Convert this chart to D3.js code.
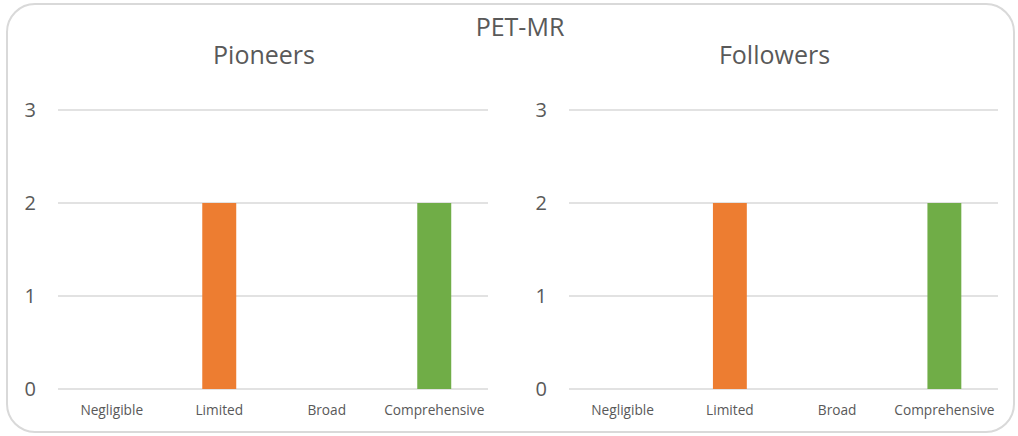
<!DOCTYPE html>
<html><head><meta charset="utf-8">
<script src="https://cdn.jsdelivr.net/npm/d3@7"></script>
<style>body{margin:0;background:#fff;}svg{display:block;font-family:"Open Sans",sans-serif;}</style>
</head><body>
<svg id="c" width="1018" height="436"></svg>
<script>
const categories = ["Negligible","Limited","Broad","Comprehensive"];
const pioneers = [0,2,0,2];
const followers = [0,2,0,2];
const yTicks = [0,1,2,3];
const barColors = ["#4472C4","#ED7D31","#A5A5A5","#70AD47"];
const mainTitle = "PET-MR";
const panelTitles = ["Pioneers","Followers"];

const svg = d3.select("#c");
svg.append("rect").attr("x",7).attr("y",4).attr("width",1007).attr("height",428)
  .attr("rx",28).attr("fill","#fff").attr("stroke","#d9d9d9").attr("stroke-width",2);
svg.append("text").attr("x",520).attr("y",36).attr("text-anchor","middle")
  .attr("font-size",25).attr("fill","#595959").text(mainTitle);

const y = d3.scaleLinear().domain([0,3]).range([389,110]);
const panels = [
  {title:panelTitles[0], values:pioneers, x0:58, x1:488, labelX:36},
  {title:panelTitles[1], values:followers, x0:569, x1:998, labelX:547}
];
panels.forEach(p=>{
  const g = svg.append("g");
  const x = d3.scaleBand().domain(categories).range([p.x0,p.x1]).paddingInner(0.684).paddingOuter(0.342);
  g.append("text").attr("x",(p.x0+p.x1)/2 - 9).attr("y",64).attr("text-anchor","middle")
    .attr("font-size",25).attr("fill","#595959").text(p.title);
  g.selectAll("line.grid").data(yTicks).join("line")
    .attr("x1",p.x0).attr("x2",p.x1).attr("y1",d=>y(d)).attr("y2",d=>y(d))
    .attr("stroke","#d9d9d9").attr("stroke-width",1.3);
  g.selectAll("text.yt").data(yTicks).join("text")
    .attr("x",p.labelX).attr("y",d=>y(d)).attr("dy","0.36em").attr("text-anchor","end")
    .attr("font-size",20).attr("fill","#595959").text(d=>d);
  g.selectAll("rect.bar").data(p.values.map((v,i)=>({c:categories[i],v,i}))).join("rect")
    .attr("x",d=>x(d.c)).attr("width",x.bandwidth())
    .attr("y",d=>y(d.v)).attr("height",d=>y(0)-y(d.v))
    .attr("fill",d=>barColors[d.i]);
  g.selectAll("text.xt").data(categories).join("text")
    .attr("x",d=>x(d)+x.bandwidth()/2).attr("y",415).attr("text-anchor","middle")
    .attr("font-size",13.7).attr("fill","#595959").text(d=>d);
});
</script>
</body></html>
